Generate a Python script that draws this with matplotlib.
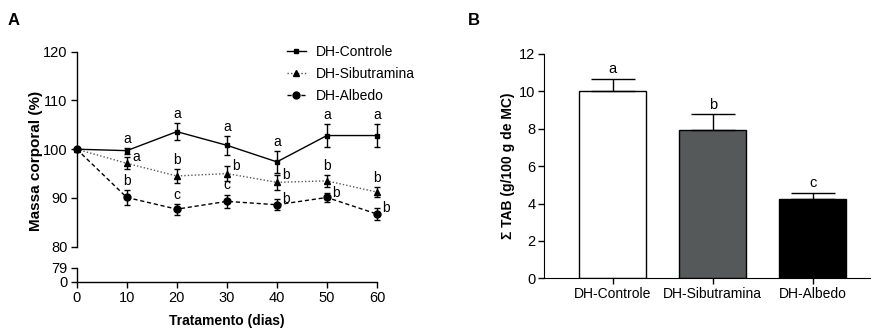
import numpy as np
import matplotlib
matplotlib.use("Agg")
import matplotlib.pyplot as plt

plt.rcParams['font.family'] = ['Liberation Sans', 'DejaVu Sans']
plt.rcParams['font.size'] = 10

# ---- panel A data ----
dias = [0, 10, 20, 30, 40, 50, 60]
controle = [100, 99.7, 103.6, 100.8, 97.4, 102.8, 102.8]
controle_err = [0, 0.6, 1.7, 1.9, 2.2, 2.3, 2.3]
sibutramina = [100, 97.1, 94.5, 95.0, 93.2, 93.5, 91.2]
sibutramina_err = [0, 1.2, 1.4, 1.5, 1.6, 1.2, 1.0]
albedo = [100, 90.1, 87.7, 89.3, 88.6, 90.1, 86.7]
albedo_err = [0, 1.6, 1.1, 1.4, 1.1, 1.0, 1.2]

controle_letras = ['', 'a', 'a', 'a', 'a', 'a', 'a']
sibutramina_letras = ['', 'a', 'b', 'b', 'b', 'b', 'b']
albedo_letras = ['', 'b', 'c', 'c', 'b', 'b', 'b']
sibutramina_lado = ['', 'r', 'u', 'r', 'r', 'u', 'u']
albedo_lado = ['', 'u', 'u', 'u', 'r', 'r', 'r']

# ---- panel B data ----
grupos = ['DH-Controle', 'DH-Sibutramina', 'DH-Albedo']
tab = [10.0, 7.95, 4.26]
tab_err = [0.66, 0.82, 0.32]
tab_letras = ['a', 'b', 'c']
cores = ['white', '#555959', 'black']

fig = plt.figure(figsize=(8.73, 3.28), dpi=100)

ax_top = fig.add_axes([0.0879, 0.2479, 0.3439, 0.5945])
ax_bot = fig.add_axes([0.0879, 0.1412, 0.3439, 0.0426])

series = [
    (controle, controle_err, 'DH-Controle', '-', 's', 3.5, 'black'),
    (sibutramina, sibutramina_err, 'DH-Sibutramina', (0, (1, 1.5)), '^', 4.5, '#555555'),
    (albedo, albedo_err, 'DH-Albedo', (0, (3, 2)), 'o', 5, 'black'),
]
handles = []
for y, e, lab, ls, mk, ms, c in series:
    eb = ax_top.errorbar(dias, y, yerr=e, fmt='none', ecolor='black', elinewidth=1,
                         capsize=2.5, capthick=1)
    for art in eb.lines[1] + eb.lines[2]:
        art.set_clip_on(False)
    h, = ax_top.plot(dias, y, marker=mk, ls=ls, color=c, mfc='black', mec='black',
                     ms=ms, lw=1, label=lab, clip_on=False)
    handles.append(h)

def letras(vals, errs, lets, lados):
    for x, v, e, l, s in zip(dias, vals, errs, lets, lados):
        if not l:
            continue
        if s == 'r':
            ax_top.annotate(l, (x, v + e), xytext=(4, 0), textcoords='offset points',
                            ha='left', va='center')
        else:
            ax_top.annotate(l, (x, v + e), xytext=(0, 1.5), textcoords='offset points',
                            ha='center', va='bottom')

letras(controle, controle_err, controle_letras, ['u'] * 7)
letras(sibutramina, sibutramina_err, sibutramina_letras, sibutramina_lado)
letras(albedo, albedo_err, albedo_letras, albedo_lado)

ax_top.set_xlim(0, 60)
ax_top.set_ylim(80, 120)
ax_top.set_yticks([80, 90, 100, 110, 120])
ax_top.set_xticks([])
for s in ['top', 'right', 'bottom']:
    ax_top.spines[s].set_visible(False)
ax_top.patch.set_visible(False)
fig.legend(handles=handles, loc='upper left', bbox_to_anchor=(0.3288, 0.862),
           bbox_transform=fig.transFigure, frameon=False, borderpad=0,
           borderaxespad=0, handlelength=1.35, handletextpad=0.7, labelspacing=0.55,
           fontsize=10)

ax_bot.set_xlim(0, 60)
ax_bot.set_ylim(0, 79)
ax_bot.set_yticks([0, 79])
ax_bot.set_xticks(dias)
for s in ['top', 'right']:
    ax_bot.spines[s].set_visible(False)
ax_bot.patch.set_visible(False)

for a in (ax_top, ax_bot):
    a.tick_params(length=4.5, width=1, pad=2, labelsize=10.5)
    for s in a.spines.values():
        s.set_linewidth(1)

fig.text(0.260, 0.022, 'Tratamento (dias)', ha='center', va='center', fontweight='bold')
fig.text(0.041, 0.508, 'Massa corporal (%)', rotation=90, ha='center', va='center',
         fontweight='bold', fontsize=11)

# ---- panel B ----
axb = fig.add_axes([0.6235, 0.1515, 0.3731, 0.6839])
x = np.arange(len(grupos))
axb.bar(x, tab, width=0.67, color=cores, edgecolor='black', lw=1)
axb.errorbar(x, tab, yerr=[np.zeros(3), tab_err], fmt='none', ecolor='black',
             elinewidth=1, capsize=15.5, capthick=1)
for xi, v, e, l in zip(x, tab, tab_err, tab_letras):
    axb.annotate(l, (xi, v + e), xytext=(0, 2), textcoords='offset points',
                 ha='center', va='bottom', fontsize=10.5)
axb.set_xlim(-0.685, 2.575)
axb.set_ylim(0, 12)
axb.set_yticks([0, 2, 4, 6, 8, 10, 12])
axb.set_xticks(x)
axb.set_xticklabels(grupos)
axb.set_ylabel('Σ TAB (g/100 g de MC)', fontweight='bold', labelpad=3)
for s in ['top', 'right']:
    axb.spines[s].set_visible(False)
axb.tick_params(length=4.5, width=1, pad=2)
axb.tick_params(axis='y', labelsize=10.5)

fig.text(0.009, 0.924, 'A', fontsize=12, fontweight='bold', va='baseline')
fig.text(0.536, 0.924, 'B', fontsize=12, fontweight='bold', va='baseline')

fig.savefig('out.png', dpi=100)
